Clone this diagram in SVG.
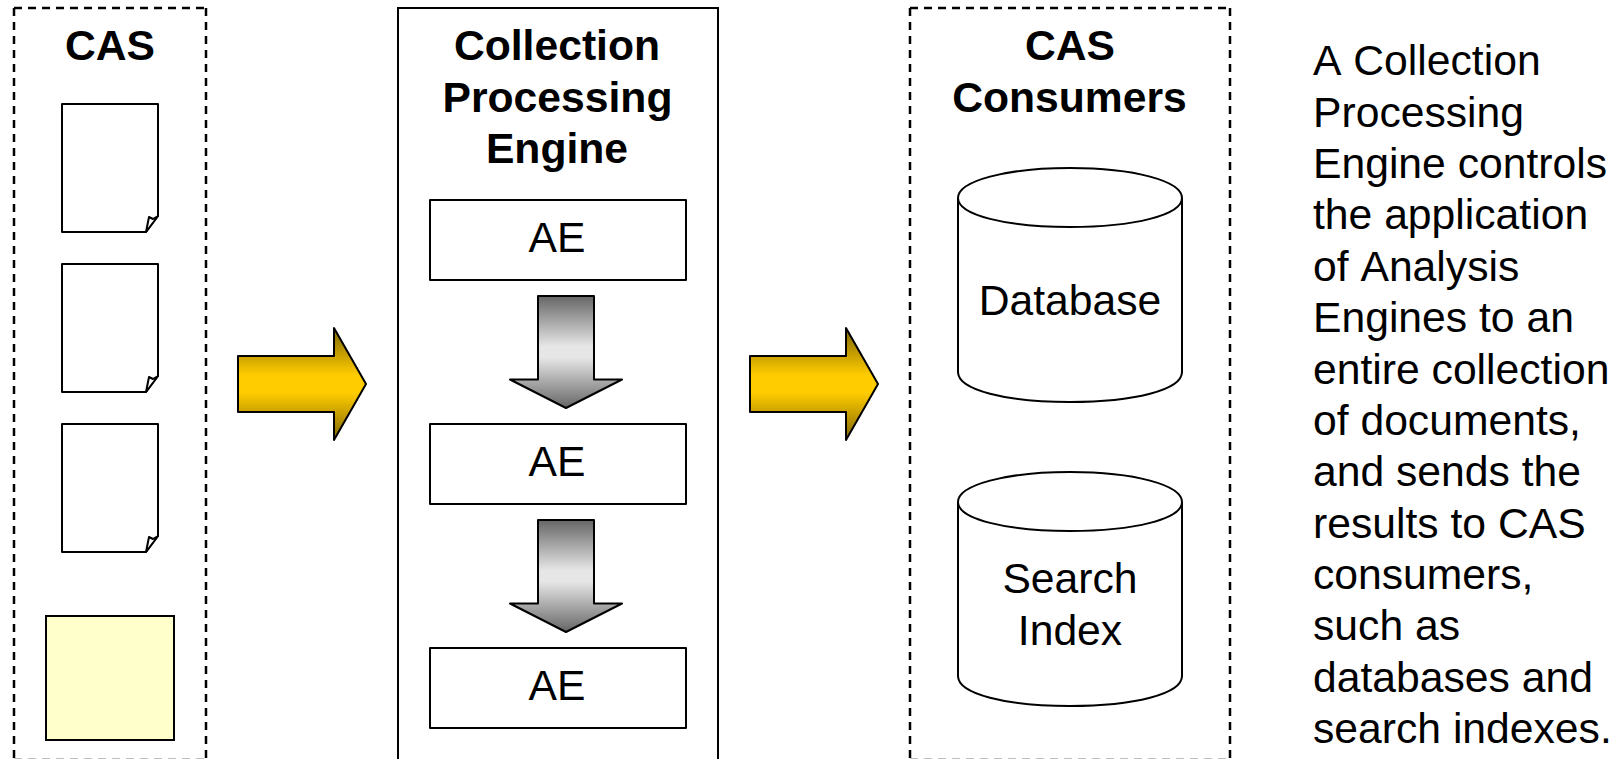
<svg xmlns="http://www.w3.org/2000/svg" width="1619" height="759" viewBox="0 0 1619 759">
<style>
text{font-family:"Liberation Sans",Arial,sans-serif;font-size:42.67px;fill:#000;text-anchor:middle}
.t{font-weight:bold}
.d{text-anchor:start}
.nk{font-kerning:none}
.s{fill:none;stroke:#000;stroke-width:2}
.dash{fill:none;stroke:#000;stroke-width:2.5;stroke-dasharray:8 6}
.w{fill:#fff;stroke:#000;stroke-width:2;stroke-linejoin:round}
</style>
<defs>
<linearGradient id="gold" x1="0" y1="0" x2="0" y2="1"><stop offset="0" stop-color="#806600"/><stop offset=".42" stop-color="#fc0"/><stop offset=".58" stop-color="#fc0"/><stop offset="1" stop-color="#806600"/></linearGradient>
<linearGradient id="grey" x1="0" y1="0" x2="0" y2="1"><stop offset="0" stop-color="#666"/><stop offset=".45" stop-color="#e6e6e6"/><stop offset=".55" stop-color="#e6e6e6"/><stop offset="1" stop-color="#666"/></linearGradient>
<g id="doc"><path class="w" d="M62 104H158V216L146 232H62Z"/><path class="w" d="M146 232L149 217L153 219L158 216Z"/></g>
<path id="gold-arrow" d="M238 356H334V328L366 384L334 440V412H238Z" fill="url(#gold)" stroke="#000" stroke-width="2" stroke-linejoin="round"/>
<path id="grey-arrow" d="M538 296H594V379.500H622L566 408L510 379.500H538Z" fill="url(#grey)" stroke="#000" stroke-width="2" stroke-linejoin="round"/>
</defs>
<rect width="1619" height="759" fill="#fff"/>
<g id="cas-box">
<path class="dash" d="M14 8V760M14 8H206M206 8V760M14 760H206"/>
<text class="t" x="110" y="60">CAS</text>
</g>
<g id="doc-1"><use href="#doc"/></g>
<g id="doc-2"><use href="#doc" y="160"/></g>
<g id="doc-3"><use href="#doc" y="320"/></g>
<g id="note"><rect x="46" y="616" width="128" height="124" fill="#ffc" stroke="#000" stroke-width="2"/></g>
<g id="cpe-box">
<rect x="398" y="8" width="320" height="760" fill="#fff" stroke="#000" stroke-width="2"/>
<text class="t" x="557" y="60">Collection</text>
<text class="t" x="557.500" y="112">Processing</text>
<text class="t" x="557" y="163">Engine</text>
</g>
<g id="ae-1"><rect class="w" x="430" y="200" width="256" height="80"/><text x="557" y="252">AE</text></g>
<g id="ae-2"><rect class="w" x="430" y="424" width="256" height="80"/><text x="557" y="476">AE</text></g>
<g id="ae-3"><rect class="w" x="430" y="648" width="256" height="80"/><text x="557" y="700">AE</text></g>
<g id="consumers-box">
<path class="dash" d="M910 8V760M910 8H1230M1230 8V760M910 760H1230"/>
<text class="t" x="1070" y="60">CAS</text>
<text class="t" x="1069.500" y="112">Consumers</text>
</g>
<g id="database">
<path class="w" d="M958 198C958 181 1006 168 1070 168S1182 181 1182 198V372C1182 390 1134 402 1070 402S958 390 958 372Z"/>
<path class="s" d="M958 198C958 215 1006 227 1070 227S1182 215 1182 198"/>
<text x="1070" y="315">Database</text>
</g>
<g id="search-index">
<path class="w" d="M958 502C958 485 1006 472 1070 472S1182 485 1182 502V676C1182 694 1134 706 1070 706S958 694 958 676Z"/>
<path class="s" d="M958 502C958 519 1006 531 1070 531S1182 519 1182 502"/>
<text x="1070" y="593">Search</text>
<text x="1070" y="645">Index</text>
</g>
<g id="connectors">
<use href="#gold-arrow"/>
<use href="#gold-arrow" x="512"/>
<use href="#grey-arrow"/>
<use href="#grey-arrow" y="224"/>
</g>
<g id="caption">
<text class="d nk" x="1313" y="75">A Collection</text>
<text class="d" x="1313" y="127">Processing</text>
<text class="d" x="1313" y="178">Engine controls</text>
<text class="d" x="1313" y="229">the application</text>
<text class="d nk" x="1313" y="281">of Analysis</text>
<text class="d" x="1313" y="332">Engines to an</text>
<text class="d" x="1313" y="384">entire collection</text>
<text class="d" x="1313" y="435">of documents,</text>
<text class="d" x="1313" y="486">and sends the</text>
<text class="d" x="1313" y="538">results to CAS</text>
<text class="d" x="1313" y="589">consumers,</text>
<text class="d" x="1313" y="640">such as</text>
<text class="d" x="1313" y="692">databases and</text>
<text class="d" x="1313" y="743">search indexes.</text>
</g>
</svg>
